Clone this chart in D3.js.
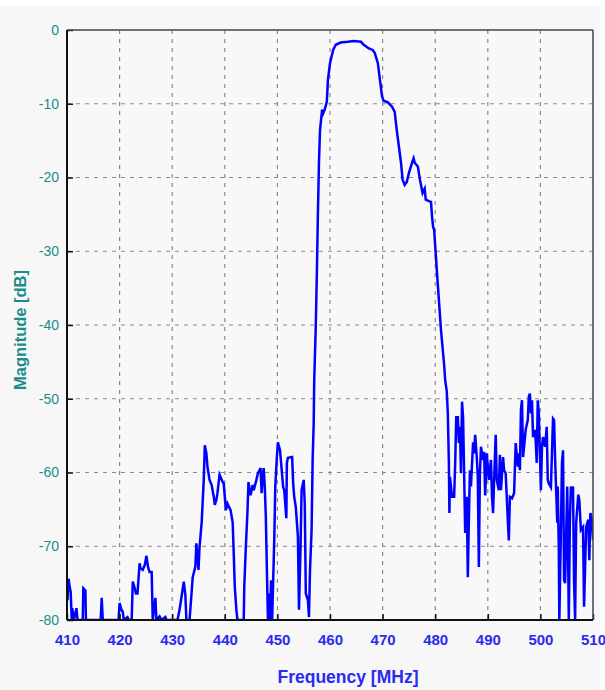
<!DOCTYPE html>
<html>
<head>
<meta charset="utf-8">
<script src="https://cdn.jsdelivr.net/npm/d3@7/dist/d3.min.js"></script>
<style>
  html, body { margin: 0; padding: 0; background: #ffffff; }
  svg { display: block; }
</style>
</head>
<body>
<svg id="chart" width="605" height="690"></svg>
<script>
// ---- data ----
const xTicks = [410, 420, 430, 440, 450, 460, 470, 480, 490, 500, 510];
const yTicks = [0, -10, -20, -30, -40, -50, -60, -70, -80];
const xTitle = "Frequency [MHz]";
const yTitle = "Magnitude [dB]";

const freqMHz = [
  410.0, 410.1, 410.3, 410.5, 410.7, 410.9, 411.0, 411.3, 411.8, 412.0, 413.0, 413.1, 413.5, 413.6,
  416.4, 416.6, 416.8, 419.8, 420.0, 420.3, 420.6, 420.8, 421.5, 421.8, 422.3, 422.5, 422.8, 423.1,
  423.4, 423.8, 424.0, 424.4, 424.8, 425.1, 425.4, 425.7, 426.1, 426.3, 426.8, 427.0, 427.6, 428.0,
  428.7, 428.9, 431.0, 431.3, 431.6, 432.2, 432.5, 432.7, 433.3, 433.9, 434.4, 434.6, 435.0, 435.2,
  435.6, 436.0, 436.2, 436.5, 436.7, 437.1, 437.5, 437.9, 438.1, 438.4, 438.6, 439.0, 439.6, 439.8,
  440.2, 440.5, 441.1, 441.5, 441.7, 441.9, 442.2, 442.4, 443.6, 443.7, 444.0, 444.3, 444.5, 444.9,
  445.3, 445.5, 445.9, 446.3, 446.6, 446.8, 447.0, 447.2, 447.4, 447.6, 447.8, 448.0, 448.2, 448.4,
  448.6, 448.8, 449.0, 449.2, 449.4, 449.6, 449.9, 450.1, 450.5, 450.7, 451.1, 451.3, 451.7, 451.8,
  452.0, 452.8, 453.0, 453.2, 453.5, 453.9, 454.1, 454.4, 454.6, 455.0, 455.2, 455.4, 455.8, 456.0,
  456.2, 456.5, 456.7, 456.9, 457.0, 457.3, 457.5, 457.7, 457.9, 458.1, 458.5, 458.7, 459.0, 459.4,
  459.6, 460.0, 460.6, 461.1, 462.0, 463.4, 464.5, 465.9, 466.4, 467.4, 468.1, 468.5, 469.1, 469.5,
  469.9, 470.2, 471.0, 471.8, 472.3, 472.7, 473.1, 473.5, 473.8, 474.2, 474.6, 475.0, 475.6, 475.9,
  476.1, 476.7, 477.1, 477.6, 478.0, 478.2, 478.8, 479.2, 479.4, 479.6, 479.8, 480.3, 481.1, 481.7,
  481.9, 482.2, 482.4, 482.6, 482.7, 482.8, 483.2, 483.6, 483.8, 484.0, 484.3, 484.5, 484.7, 484.9,
  485.1, 485.3, 485.5, 485.7, 486.0, 486.2, 486.4, 486.6, 486.8, 487.2, 487.4, 487.6, 487.9, 488.1,
  488.3, 488.5, 488.7, 489.1, 489.3, 489.5, 489.8, 490.0, 490.2, 490.6, 490.8, 491.0, 491.2, 491.5,
  491.7, 492.1, 492.3, 492.5, 492.9, 493.1, 493.4, 493.8, 494.0, 494.2, 494.6, 495.0, 495.3, 495.7,
  495.9, 496.1, 496.3, 496.5, 496.7, 496.9, 497.2, 497.6, 497.8, 498.0, 498.2, 498.4, 498.6, 499.0,
  499.3, 499.5, 499.7, 500.1, 500.3, 500.5, 500.9, 501.2, 501.4, 501.6, 502.0, 502.4, 502.6, 502.8,
  503.2, 503.3, 503.5, 503.6, 503.9, 504.1, 504.3, 504.5, 504.7, 505.1, 505.2, 505.4, 505.6, 505.8,
  506.0, 506.2, 506.4, 506.6, 506.8, 507.2, 507.4, 507.7, 508.1, 508.3, 508.5, 508.7, 509.1, 509.3,
  509.5, 509.8, 510.0
];
const magDB = [
  -77.0, -77.3, -74.4, -75.5, -76.2, -80.0, -78.4, -80.0, -78.4, -80.0, -80.0, -75.7, -76.0, -80.0,
  -80.0, -77.0, -80.0, -80.0, -77.7, -78.5, -78.9, -80.0, -79.6, -80.0, -80.0, -74.8, -75.5, -76.4,
  -76.4, -72.3, -73.0, -73.2, -72.5, -71.3, -72.8, -73.5, -73.5, -80.0, -77.0, -80.0, -79.5, -80.0,
  -79.6, -80.0, -80.0, -79.0, -77.7, -74.8, -76.6, -80.0, -80.0, -74.2, -72.8, -69.6, -73.2, -70.1,
  -66.8, -61.0, -56.3, -57.4, -59.2, -61.0, -61.7, -63.3, -64.4, -63.7, -62.8, -60.3, -61.3, -61.5,
  -65.1, -64.2, -65.1, -66.8, -71.0, -75.5, -78.6, -80.0, -80.0, -75.5, -70.1, -65.5, -61.3, -63.1,
  -61.7, -62.4, -61.3, -60.1, -59.7, -59.4, -62.8, -60.6, -59.4, -61.9, -66.0, -73.2, -80.0, -76.4,
  -80.0, -74.6, -80.0, -74.6, -69.2, -61.9, -57.9, -55.9, -57.0, -58.7, -62.0, -62.4, -66.2, -58.7,
  -58.0, -57.9, -61.5, -63.3, -64.7, -68.7, -78.6, -70.1, -62.4, -61.0, -64.2, -76.4, -77.3, -79.6,
  -73.2, -67.8, -58.3, -53.3, -47.5, -40.0, -33.0, -25.0, -18.0, -13.6, -10.8, -11.3, -10.8, -9.7,
  -6.8, -4.5, -2.7, -2.0, -1.7, -1.6, -1.5, -1.6, -2.0, -2.5, -2.7, -3.1, -4.5, -6.8,
  -9.0, -9.6, -9.8, -10.4, -11.1, -13.6, -15.8, -18.0, -20.3, -21.0, -20.6, -19.4, -18.0, -17.4,
  -18.0, -18.5, -20.3, -22.1, -21.5, -23.0, -23.2, -23.3, -25.3, -26.7, -27.1, -32.5, -40.7, -45.4,
  -47.5, -49.0, -52.0, -58.7, -65.5, -60.6, -63.3, -63.3, -58.7, -52.5, -52.5, -56.0, -53.8, -60.1,
  -50.4, -52.5, -60.1, -68.2, -63.3, -74.2, -66.4, -59.7, -61.9, -55.9, -57.4, -54.9, -57.9, -60.6,
  -72.8, -60.1, -56.5, -58.3, -57.2, -63.1, -57.4, -59.2, -61.0, -58.3, -63.3, -65.5, -61.0, -54.9,
  -61.0, -62.4, -57.6, -62.4, -57.9, -59.7, -60.1, -66.4, -69.2, -63.3, -63.5, -62.8, -56.0, -59.2,
  -57.4, -59.7, -51.5, -50.2, -57.9, -56.5, -54.2, -52.9, -49.7, -49.3, -52.0, -50.2, -55.2, -54.2,
  -58.7, -50.2, -52.0, -62.4, -56.5, -55.2, -56.5, -53.8, -61.0, -61.5, -62.0, -52.7, -52.9, -58.3,
  -66.8, -61.9, -70.5, -80.0, -67.8, -58.7, -57.0, -74.6, -75.0, -61.9, -66.4, -80.0, -66.8, -61.9,
  -62.8, -61.9, -74.6, -80.0, -66.8, -63.0, -63.7, -67.8, -67.4, -78.2, -72.8, -67.4, -66.4, -71.9,
  -65.5, -66.4, -69.2
];

// ---- layout ----
const W = 605, H = 690;
const plot = { left: 67, right: 593, top: 30, bottom: 620 };
const teal = "#1a8c8c";
const blueText = "#2a2af2";
const narrow = "'Liberation Sans Narrow', 'Arial Narrow', 'Liberation Sans', Arial, sans-serif";

const svg = d3.select("#chart");

svg.append("rect").attr("x", 0).attr("y", 0).attr("width", W).attr("height", H).attr("fill", "#ffffff");
svg.append("rect").attr("x", 0).attr("y", 6).attr("width", 600).attr("height", H - 6).attr("fill", "#f7f7f7");

const x = d3.scaleLinear().domain([410, 510]).range([plot.left, plot.right]);
const y = d3.scaleLinear().domain([-80, 0]).range([plot.bottom, plot.top]);

// plot background
svg.append("rect")
  .attr("x", plot.left).attr("y", plot.top)
  .attr("width", plot.right - plot.left).attr("height", plot.bottom - plot.top)
  .attr("fill", "#f8f8f8");

// grid
const grid = svg.append("g");
grid.selectAll("line.vx").data(xTicks.slice(1, -1)).join("line")
  .attr("x1", d => x(d)).attr("x2", d => x(d))
  .attr("y1", plot.top).attr("y2", plot.bottom)
  .attr("stroke", "#8a8a8a").attr("stroke-width", 1.2).attr("stroke-dasharray", "4,5");
grid.selectAll("line.hy").data(yTicks.slice(1, -1)).join("line")
  .attr("x1", plot.left).attr("x2", plot.right)
  .attr("y1", d => y(d)).attr("y2", d => y(d))
  .attr("stroke", "#8a8a8a").attr("stroke-width", 1.2).attr("stroke-dasharray", "4,5");

// data line
svg.append("clipPath").attr("id", "clip").append("rect")
  .attr("x", plot.left).attr("y", plot.top)
  .attr("width", plot.right - plot.left).attr("height", plot.bottom - plot.top);

const pts = freqMHz.map((f, i) => [f, magDB[i]]);
const line = d3.line().x(d => x(d[0])).y(d => y(d[1]));
svg.append("path")
  .attr("clip-path", "url(#clip)")
  .attr("d", line(pts))
  .attr("fill", "none")
  .attr("stroke", "#0000ff")
  .attr("stroke-width", 2.5)
  .attr("stroke-linejoin", "miter");

// axes with inward ticks
const fmt = d => String(d);
const xAxis = d3.axisBottom(x).tickValues(xTicks).tickSizeInner(-6).tickSizeOuter(0).tickPadding(14).tickFormat(fmt);
const gx = svg.append("g").attr("transform", `translate(0,${plot.bottom})`).call(xAxis);
gx.select(".domain").remove();
gx.selectAll(".tick line").attr("stroke", "#111").attr("stroke-width", 1.5);
gx.selectAll(".tick text")
  .attr("fill", blueText).attr("font-family", narrow).attr("font-size", 15).attr("font-weight", "bold");

const yAxis = d3.axisLeft(y).tickValues(yTicks).tickSizeInner(-6).tickSizeOuter(0).tickPadding(8).tickFormat(fmt);
const gy = svg.append("g").attr("transform", `translate(${plot.left},0)`).call(yAxis);
gy.select(".domain").remove();
gy.selectAll(".tick line").attr("stroke", "#111").attr("stroke-width", 1.5);
gy.selectAll(".tick text")
  .attr("fill", teal).attr("font-family", narrow).attr("font-size", 14);

// frame
svg.append("line").attr("x1", plot.left).attr("x2", plot.right).attr("y1", plot.top).attr("y2", plot.top)
  .attr("stroke", "#444").attr("stroke-width", 1.5);
svg.append("line").attr("x1", plot.right).attr("x2", plot.right).attr("y1", plot.top).attr("y2", plot.bottom)
  .attr("stroke", "#444").attr("stroke-width", 1.5);
svg.append("line").attr("x1", plot.left).attr("x2", plot.left).attr("y1", plot.top).attr("y2", plot.bottom)
  .attr("stroke", "#111").attr("stroke-width", 2);
svg.append("line").attr("x1", plot.left).attr("x2", plot.right).attr("y1", plot.bottom).attr("y2", plot.bottom)
  .attr("stroke", "#111").attr("stroke-width", 2);

// titles
svg.append("text")
  .attr("x", 348).attr("y", 683)
  .attr("text-anchor", "middle")
  .attr("fill", blueText).attr("font-family", "'Liberation Sans', Arial, sans-serif")
  .attr("font-size", 17.5).attr("font-weight", "bold")
  .text(xTitle);

svg.append("text")
  .attr("transform", `translate(26,330) rotate(-90)`)
  .attr("text-anchor", "middle")
  .attr("fill", teal).attr("font-family", "'Liberation Sans', Arial, sans-serif")
  .attr("font-size", 16.5).attr("font-weight", "bold")
  .text(yTitle);
</script>
</body>
</html>
